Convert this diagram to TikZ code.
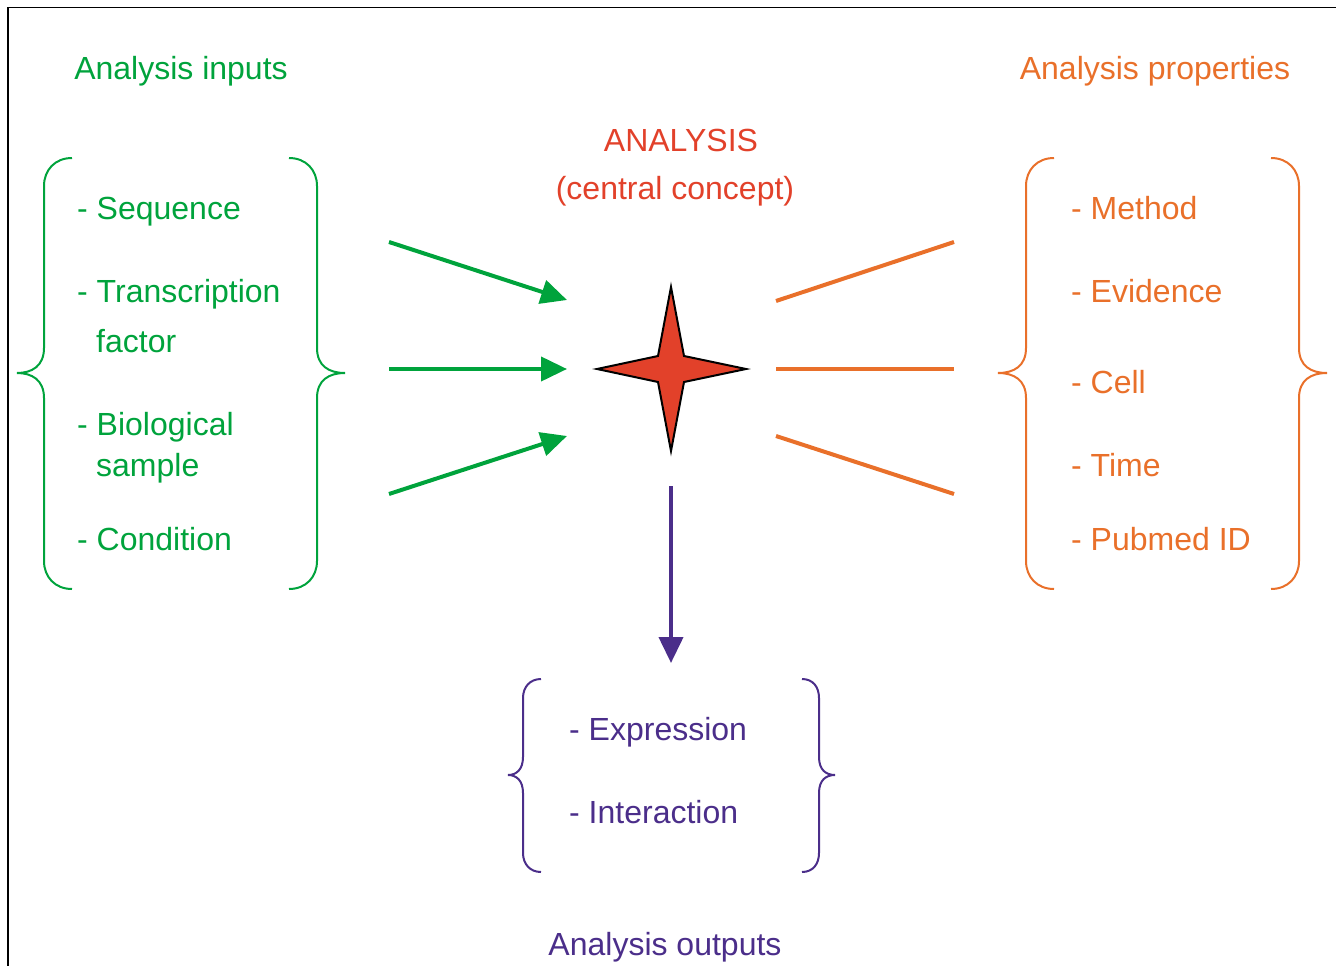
\documentclass[tikz,border=0pt]{standalone}
\usepackage{fontspec}
\setmainfont{Liberation Sans}
\usetikzlibrary{arrows.meta}
\definecolor{cgreen}{RGB}{0,163,60}
\definecolor{corange}{RGB}{233,112,42}
\definecolor{cred}{RGB}{226,65,42}
\definecolor{cpurple}{RGB}{75,46,138}
\begin{document}
\begin{tikzpicture}[x=1pt,y=-1pt,
  txt/.style={inner sep=0pt,anchor=base west,font=\fontsize{32}{38}\selectfont},
  ctxt/.style={inner sep=0pt,anchor=base,font=\fontsize{32}{38}\selectfont},
  brace/.style={line width=2pt},
  thick arrow/.style={line width=4pt,-{Triangle[length=26pt,width=24pt]}},
  thick line/.style={line width=4pt}]
\useasboundingbox (0,0) rectangle (1336,966);
% frame
\draw[line width=1.5pt] (8,966) -- (8,7.5) -- (1336,7.5);

% titles
\node[ctxt,text=cgreen] (tin) at (181,80) {Analysis inputs};
\node[ctxt,text=corange] (tprop) at (1155,80) {Analysis properties};
\node[ctxt,text=cred] (tan) at (681,151) {ANALYSIS};
\node[ctxt,text=cred] (tcc) at (675,199) {(central concept)};
\node[ctxt,text=cpurple] (tout) at (665,955) {Analysis outputs};

% green list
\node[txt,text=cgreen] (g1) at (77,219) {- Sequence};
\node[txt,text=cgreen] (g2) at (77,302) {- Transcription};
\node[txt,text=cgreen] (g2b) at (96,352) {factor};
\node[txt,text=cgreen] (g3) at (77,435) {- Biological};
\node[txt,text=cgreen] (g3b) at (96,476) {sample};
\node[txt,text=cgreen] (g4) at (77,550) {- Condition};

% orange list
\node[txt,text=corange] (o1) at (1071,219) {- Method};
\node[txt,text=corange] (o2) at (1071,302) {- Evidence};
\node[txt,text=corange] (o3) at (1071,393) {- Cell};
\node[txt,text=corange] (o4) at (1071,476) {- Time};
\node[txt,text=corange] (o5) at (1071,550) {- Pubmed ID};

% purple list
\node[txt,text=cpurple] (p1) at (569,740) {- Expression};
\node[txt,text=cpurple] (p2) at (569,823) {- Interaction};

% braces green
\draw[brace,cgreen] (72,158) .. controls (55,158) and (44,170) .. (44,186)
  -- (44,348) .. controls (44,366) and (32,373) .. (17,373)
  .. controls (32,373) and (44,380) .. (44,398)
  -- (44,561) .. controls (44,577) and (55,589) .. (72,589);
\draw[brace,cgreen] (289,158) .. controls (306,158) and (317,170) .. (317,186)
  -- (317,348) .. controls (317,366) and (329,373) .. (345,373)
  .. controls (329,373) and (317,380) .. (317,398)
  -- (317,561) .. controls (317,577) and (306,589) .. (289,589);
% braces orange
\draw[brace,corange] (1054,158) .. controls (1037,158) and (1026,170) .. (1026,186)
  -- (1026,348) .. controls (1026,366) and (1014,373) .. (998,373)
  .. controls (1014,373) and (1026,380) .. (1026,398)
  -- (1026,561) .. controls (1026,577) and (1037,589) .. (1054,589);
\draw[brace,corange] (1271,158) .. controls (1288,158) and (1299,170) .. (1299,186)
  -- (1299,348) .. controls (1299,366) and (1311,373) .. (1327,373)
  .. controls (1311,373) and (1299,380) .. (1299,398)
  -- (1299,561) .. controls (1299,577) and (1288,589) .. (1271,589);
% braces purple
\draw[brace,cpurple] (541,679) .. controls (530,679) and (523,687) .. (523,698)
  -- (523,757) .. controls (523,770) and (516,775) .. (508,775)
  .. controls (516,775) and (523,780) .. (523,793)
  -- (523,853) .. controls (523,864) and (530,872) .. (541,872);
\draw[brace,cpurple] (802,679) .. controls (813,679) and (819,687) .. (819,698)
  -- (819,757) .. controls (819,770) and (826,775) .. (835,775)
  .. controls (826,775) and (819,780) .. (819,793)
  -- (819,853) .. controls (819,864) and (813,872) .. (802,872);

% star
\coordinate (sc) at (671,369);
\filldraw[fill=cred,draw=black,line width=2pt,line join=miter]
  (671,287) -- (684,356) -- (746,369) -- (684,382) -- (671,451)
  -- (658,382) -- (597,369) -- (658,356) -- cycle;
\node[inner sep=0pt,minimum size=0pt] (star) at (sc) {};

% green arrows
\coordinate (ga1) at (389,242); \coordinate (gb1) at (567,300);
\coordinate (ga2) at (389,369); \coordinate (gb2) at (567,369);
\coordinate (ga3) at (389,494); \coordinate (gb3) at (567,436);
\draw[thick arrow,cgreen] (ga1) -- (gb1);
\draw[thick arrow,cgreen] (ga2) -- (gb2);
\draw[thick arrow,cgreen] (ga3) -- (gb3);

% orange lines
\coordinate (oa1) at (776,301); \coordinate (ob1) at (954,242);
\coordinate (oa2) at (776,369); \coordinate (ob2) at (954,369);
\coordinate (oa3) at (776,436); \coordinate (ob3) at (954,494);
\draw[thick line,corange] (oa1) -- (ob1);
\draw[thick line,corange] (oa2) -- (ob2);
\draw[thick line,corange] (oa3) -- (ob3);

% purple arrow
\coordinate (pa) at (671,486); \coordinate (pb) at (671,663);
\draw[thick arrow,cpurple] (pa) -- (pb);
\end{tikzpicture}
\end{document}
